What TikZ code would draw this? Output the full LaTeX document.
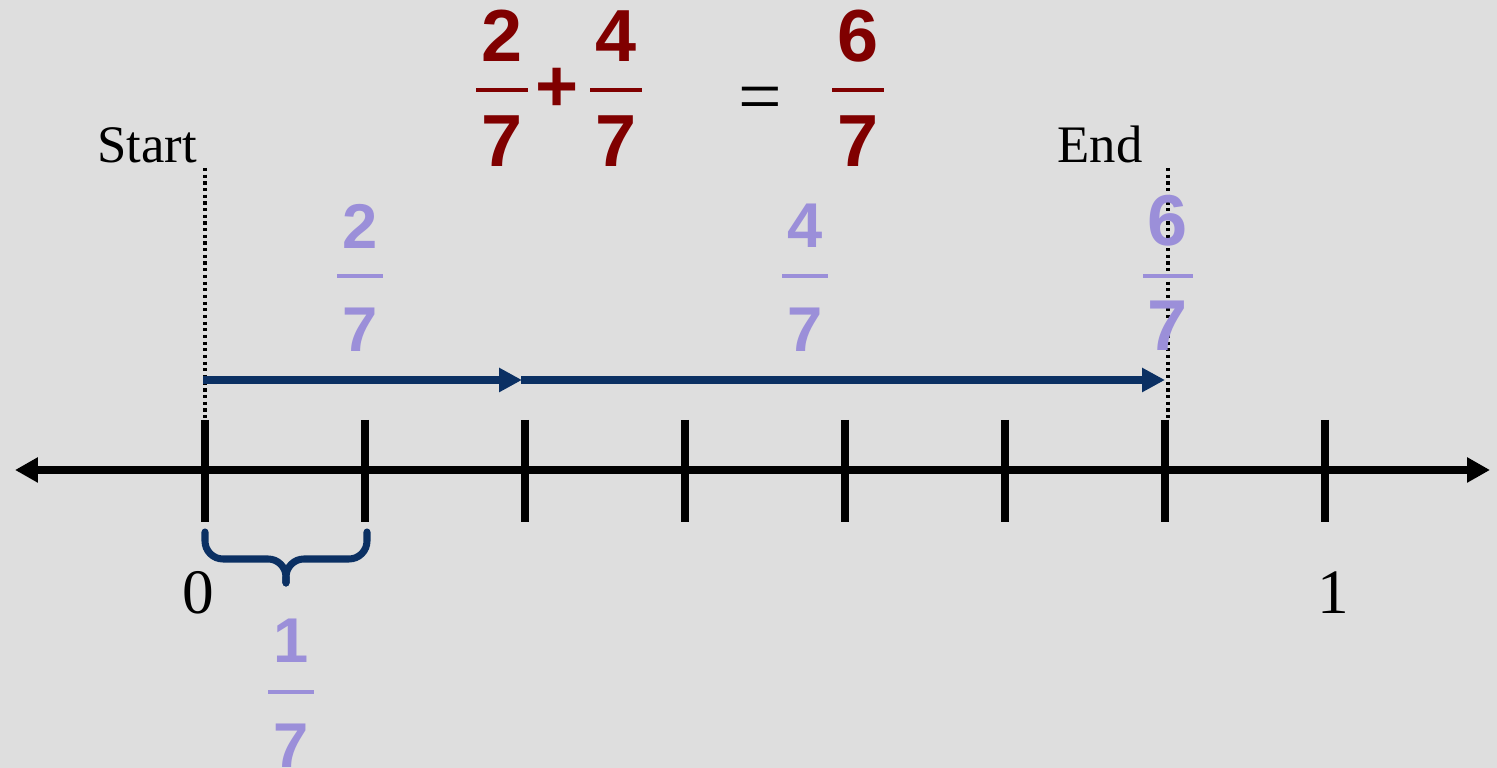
\documentclass[tikz,border=0pt]{standalone}
\usepackage{fontspec}
\setmainfont{Liberation Serif}
\newfontfamily\fracsans{Liberation Sans}
\usetikzlibrary{arrows.meta}
\definecolor{slidegrey}{RGB}{222,222,222}
\definecolor{sumred}{RGB}{128,0,0}
\definecolor{steplilac}{RGB}{155,143,217}
\definecolor{jumpblue}{RGB}{11,48,99}

\begin{document}
\begin{tikzpicture}[
    numline/.style={line width=2pt,
      {Triangle[length=0.23cm, width=0.24cm]}-{Triangle[length=0.23cm, width=0.24cm]}},
    tickmark/.style={line width=2pt},
    jump/.style={jumpblue, line width=2.2pt, -{Triangle[length=0.23cm, width=0.23cm]}},
    guide/.style={densely dotted, line width=0.9pt},
    redfrac/.style={text=sumred, inner sep=0pt,
      font=\fracsans\bfseries\fontsize{21}{25}\selectfont},
    lilacfrac/.style={text=steplilac, inner sep=0pt,
      font=\fracsans\bfseries\fontsize{18}{22}\selectfont},
    serifbig/.style={inner sep=0pt, font=\fontsize{18}{22}\selectfont}
  ]
  \fill[slidegrey] (0,0) rectangle (14.97,7.68);
  \useasboundingbox (0,0) rectangle (14.97,7.68);

  % Number line
  \coordinate (left) at (0.15,2.98);
  \coordinate (right) at (14.90,2.98);
  \draw[numline] (left) -- (right);
  \foreach \i in {0,...,7} {
    \coordinate (t\i) at (2.05+1.6*\i, 2.98);
    \coordinate (j\i) at (2.05+1.6*\i, 3.88);
    \draw[tickmark] (2.05+1.6*\i, 3.48) -- (2.05+1.6*\i, 2.46);
  }
  \node[serifbig] (zero) at (1.98,1.75) {0};
  \node[serifbig] (one) at (13.33,1.75) {1};

  % Start / End markers
  \node[anchor=base, inner sep=0pt, font=\fontsize{15}{18}\selectfont]
    (start) at (1.47,6.05) {Start};
  \node[anchor=base, inner sep=0pt, font=\fontsize{15}{18}\selectfont]
    (end) at (11.00,6.05) {End};
  \draw[guide] (2.05,6.00) -- (2.05,3.48);
  \draw[guide] (11.68,6.00) -- (11.68,3.48);

  % Jumps
  \draw[jump] ([xshift=-0.02cm]j0) -- ([xshift=-0.03cm]j2);
  \draw[jump] ([xshift=-0.04cm]j2) -- (j6);

  % Step fractions
  \foreach \x/\n/\nm in {3.60/2/a, 8.05/4/b} {
    \node[lilacfrac] (n\nm) at (\x,5.42) {\n};
    \node[lilacfrac] (d\nm) at (\x,4.38) {7};
    \draw[steplilac, line width=0.9pt] (\x-0.23,4.92) -- (\x+0.23,4.92);
  }
  \node[lilacfrac, font=\fracsans\bfseries\fontsize{20.5}{24}\selectfont]
    (nc) at (11.68,5.47) {6};
  \node[lilacfrac, font=\fracsans\bfseries\fontsize{20.5}{24}\selectfont]
    (dc) at (11.68,4.42) {7};
  \draw[steplilac, line width=0.9pt] (11.43,4.92) -- (11.93,4.92);

  % Unit brace
  \draw[jumpblue, line width=2pt, line cap=round, rounded corners=0.18cm]
    (2.05,2.36) |- (2.86,2.09) -- (2.86,1.85);
  \draw[jumpblue, line width=2pt, line cap=round, rounded corners=0.18cm]
    (3.67,2.36) |- (2.86,2.09) -- (2.86,1.85);
  \node[lilacfrac] (nu) at (2.91,1.27) {1};
  \node[lilacfrac] (du) at (2.91,0.22) {7};
  \draw[steplilac, line width=0.9pt] (2.68,0.76) -- (3.14,0.76);

  % Sum
  \foreach \x/\n/\nm in {5.02/2/p, 6.16/4/q, 8.58/6/r} {
    \node[redfrac] (n\nm) at (\x,7.32) {\n};
    \node[redfrac] (d\nm) at (\x,6.27) {7};
    \draw[sumred, line width=1.2pt] (\x-0.26,6.78) -- (\x+0.26,6.78);
  }
  \node[redfrac] (plus) at (5.57,6.78) {+};
  \node[inner sep=0pt, font=\fontsize{22}{26}\selectfont] (eq) at (7.60,6.63) {=};
\end{tikzpicture}
\end{document}
